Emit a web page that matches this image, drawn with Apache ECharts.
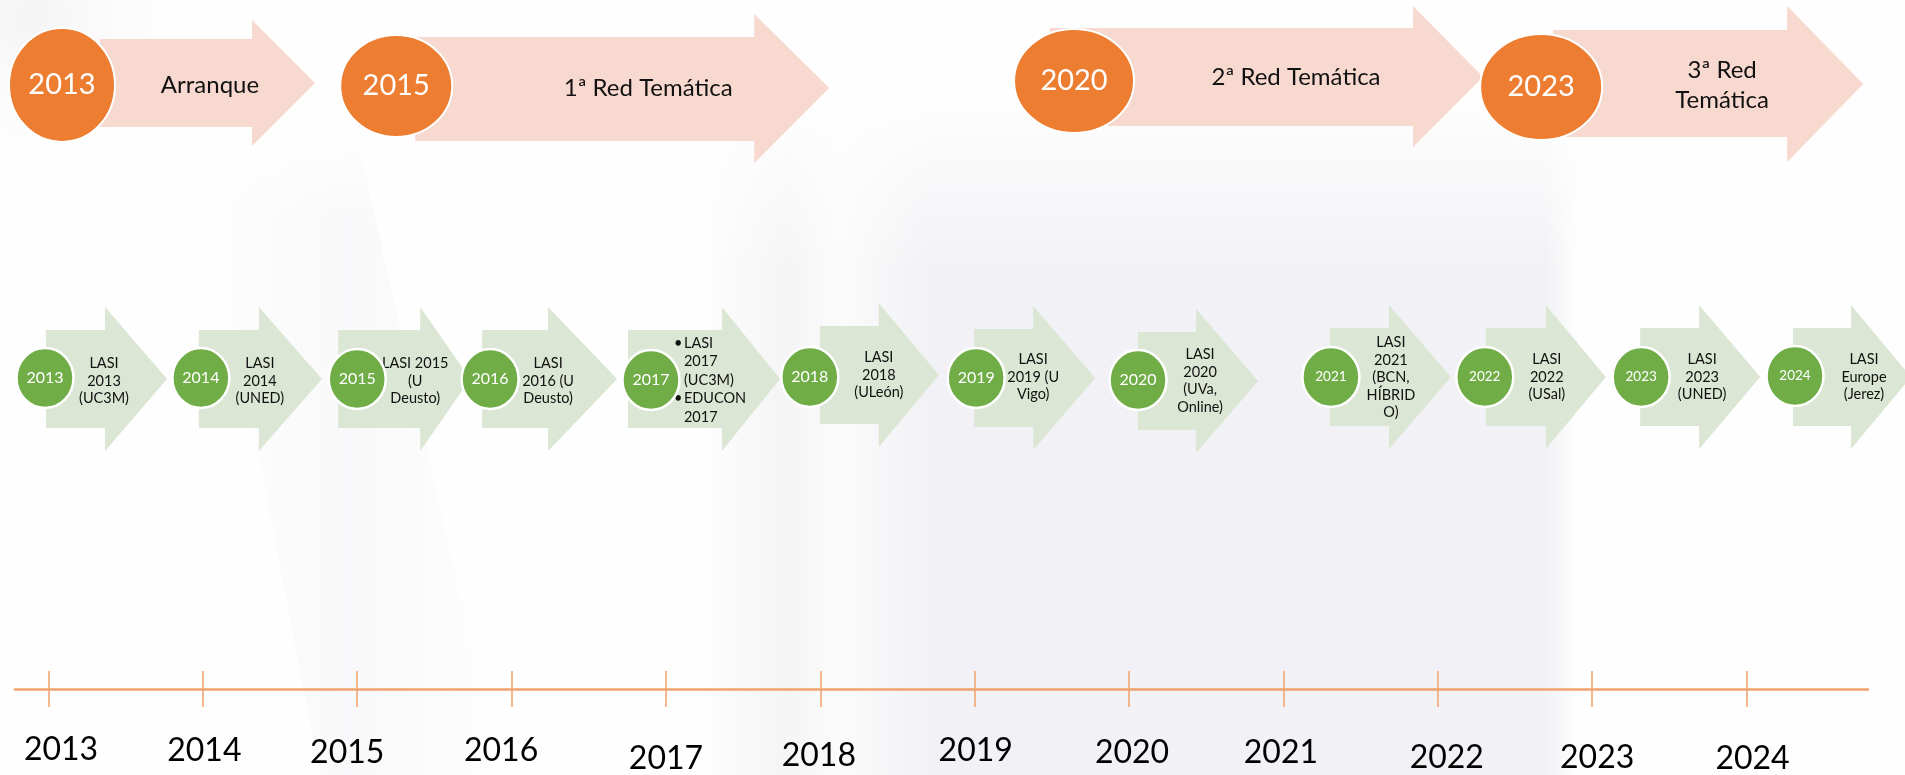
<!DOCTYPE html>
<html>
<head>
<meta charset="utf-8">
<script src="https://cdn.jsdelivr.net/npm/echarts@6/dist/echarts.min.js"></script>
<style>
  html, body { margin: 0; padding: 0; background: #fff; }
  #main { width: 1905px; height: 775px; }
</style>
</head>
<body>
<div id="main"></div>
<script>
// ---- data ----
const years = [2013, 2014, 2015, 2016, 2017, 2018, 2019, 2020, 2021, 2022, 2023, 2024]
const tickLabels = years.map(String)

const phaseYears = [2013, 2015, 2020, 2023]
const phaseNames = ['Arranque', '1ª Red Temática', '2ª Red Temática', '3ª Red\nTemática']

const eventYears = [2013, 2014, 2015, 2016, 2017, 2018, 2019, 2020, 2021, 2022, 2023, 2024]
const eventLabels = [
  'LASI\n2013\n(UC3M)',
  'LASI\n2014\n(UNED)',
  'LASI 2015\n(U\nDeusto)',
  'LASI\n2016 (U\nDeusto)',
  '• LASI\n2017\n(UC3M)\n• EDUCON\n2017',
  'LASI\n2018\n(ULeón)',
  'LASI\n2019 (U\nVigo)',
  'LASI\n2020\n(UVa,\nOnline)',
  'LASI\n2021\n(BCN,\nHÍBRID\nO)',
  'LASI\n2022\n(USal)',
  'LASI\n2023\n(UNED)',
  'LASI\nEurope\n(Jerez)'
]

// ---- layout (pixel offsets from each year's position on the axis) ----
const FONT = 'Lato, "Open Sans", sans-serif'
const ORANGE = '#ED7D31'
const PEACH = '#F8D9CF'
const GREEN = '#70AD47'
const SAGE = '#DBE6D4'
const AXIS_ORANGE = '#F2A36D'

// circle nudge, cy, rx, ry, body start/top/bottom, head base/top/bottom, tip x/y, text dx/y
const phaseLayout = [
  { nudge: 13.5, cy: 85, rx: 53, ry: 57, bs: 38, bt: 39, bb: 127, hb: 190, ht: 20, hbot: 146, tip: 253, tipY: 83, tdx: 148, ty: 85 },
  { nudge: 39, cy: 86, rx: 56, ry: 51, bs: 19, bt: 37, bb: 141, hb: 358, ht: 14, hbot: 163, tip: 433, tipY: 88, tdx: 252, ty: 88 },
  { nudge: -55, cy: 81, rx: 60, ry: 52, bs: -24, bt: 28, bb: 126, hb: 339, ht: 6, hbot: 147, tip: 409, tipY: 77, tdx: 222, ty: 77 },
  { nudge: -51, cy: 87, rx: 61, ry: 53, bs: 12, bt: 30, bb: 137, hb: 246, ht: 6, hbot: 162, tip: 322, tipY: 84, tdx: 181, ty: 85 }
]

const eventLayout = [
  { nudge: -3.5, cy: 378, ay: 379, s: 1, hb: 60, tip: 122, tdx: 59, ty: 381, fs: 16 },
  { nudge: -2, cy: 378, ay: 379, s: -2, hb: 58, tip: 121, tdx: 59, ty: 381, fs: 16 },
  { nudge: 0, cy: 379, ay: 379, s: -19, hb: 63, tip: 113, tdx: 58, ty: 381, fs: 16 },
  { nudge: -21.5, cy: 379, ay: 379, s: -8, hb: 58, tip: 127, tdx: 58, ty: 381, fs: 16 },
  { nudge: -15, cy: 380, ay: 379, s: -23, hb: 71, tip: 129, tdx: 33, ty: 380, fs: 16 },
  { nudge: -10.5, cy: 377, ay: 375, s: 10, hb: 69, tip: 129, tdx: 69, ty: 375, fs: 16 },
  { nudge: 1.5, cy: 378, ay: 378, s: -2, hb: 57, tip: 119, tdx: 57, ty: 377, fs: 16 },
  { nudge: 9, cy: 380, ay: 381, s: 0, hb: 58, tip: 120, tdx: 62, ty: 381, fs: 16 },
  { nudge: 47.5, cy: 377, ay: 377, s: -1, hb: 58, tip: 120, tdx: 60, ty: 377.5, fs: 13.5 },
  { nudge: 47, cy: 377, ay: 377, s: 1, hb: 61, tip: 121, tdx: 62, ty: 377, fs: 13.5 },
  { nudge: 49, cy: 377, ay: 377, s: -1, hb: 58, tip: 119, tdx: 61, ty: 377, fs: 13.5 },
  { nudge: 48.5, cy: 376, ay: 377, s: -2, hb: 56, tip: 116, tdx: 69, ty: 377, fs: 13.5 }
]

const labelNudge = [12.5, 1.5, -10, -10.5, 0, -1.5, 1, 3, -2.5, 9, 5, 6]
const labelY = [749.5, 750.5, 752.5, 751, 759, 756, 751, 753, 753, 758, 758, 759]

const chart = echarts.init(document.getElementById('main'))

function yOf(api, v) {
  return api.coord([api.value(0), v])[1]
}

function renderPhase(params, api) {
  const i = params.dataIndex
  const L = phaseLayout[i]
  const cx = api.coord([api.value(0), L.cy])[0] + L.nudge
  const Y = v => yOf(api, v)
  return {
    type: 'group',
    children: [
      {
        type: 'polygon',
        shape: {
          points: [
            [cx + L.bs, Y(L.bt)], [cx + L.hb, Y(L.bt)], [cx + L.hb, Y(L.ht)],
            [cx + L.tip, Y(L.tipY)],
            [cx + L.hb, Y(L.hbot)], [cx + L.hb, Y(L.bb)], [cx + L.bs, Y(L.bb)]
          ]
        },
        style: { fill: PEACH }
      },
      {
        type: 'text',
        style: {
          x: cx + L.tdx, y: Y(L.ty), text: phaseNames[i],
          fill: '#111', fontSize: 24, fontFamily: FONT, lineHeight: 30,
          align: 'center', verticalAlign: 'middle'
        }
      },
      {
        type: 'ellipse',
        shape: { cx: cx, cy: Y(L.cy), rx: L.rx, ry: L.ry },
        style: { fill: ORANGE, stroke: '#fff', lineWidth: 2 }
      },
      {
        type: 'text',
        style: {
          x: cx, y: Y(L.cy), text: String(phaseYears[i]),
          fill: '#fff', fontSize: 29, fontFamily: FONT,
          align: 'center', verticalAlign: 'middle'
        }
      }
    ]
  }
}

function renderEvent(params, api) {
  const i = params.dataIndex
  const L = eventLayout[i]
  const cx = api.coord([api.value(0), L.cy])[0] + L.nudge
  const Y = v => yOf(api, v)
  const BODY = 49, HEAD = 72
  const children = [
    {
      type: 'polygon',
      shape: {
        points: [
          [cx + L.s, Y(L.ay - BODY)], [cx + L.hb, Y(L.ay - BODY)], [cx + L.hb, Y(L.ay - HEAD)],
          [cx + L.tip, Y(L.ay)],
          [cx + L.hb, Y(L.ay + HEAD)], [cx + L.hb, Y(L.ay + BODY)], [cx + L.s, Y(L.ay + BODY)]
        ]
      },
      style: { fill: SAGE }
    }
  ]
  const label = eventLabels[i]
  if (label.indexOf('•') >= 0) {
    const lines = label.split('\n')
    const bullets = lines.map(l => (l.indexOf('•') === 0 ? '•' : ' ')).join('\n')
    const body = lines.map(l => l.replace('• ', '')).join('\n')
    children.push({
      type: 'text',
      style: {
        x: cx + L.tdx - 10, y: Y(L.ty), text: bullets, fill: '#111',
        fontSize: 14.5, fontFamily: FONT, lineHeight: 18.5, align: 'left', verticalAlign: 'middle'
      }
    })
    children.push({
      type: 'text',
      style: {
        x: cx + L.tdx, y: Y(L.ty), text: body, fill: '#111',
        fontSize: 14.5, fontFamily: FONT, lineHeight: 18.5, align: 'left', verticalAlign: 'middle'
      }
    })
  } else {
    children.push({
      type: 'text',
      style: {
        x: cx + L.tdx, y: Y(L.ty), text: label, fill: '#111',
        fontSize: 14.5, fontFamily: FONT, lineHeight: 17.5, align: 'center', verticalAlign: 'middle'
      }
    })
  }
  children.push({
    type: 'ellipse',
    shape: { cx: cx, cy: Y(L.cy), rx: 28.5, ry: 30 },
    style: { fill: GREEN, stroke: '#fff', lineWidth: 2.5 }
  })
  children.push({
    type: 'text',
    style: {
      x: cx, y: Y(L.cy), text: String(eventYears[i]), fill: '#fff',
      fontSize: L.fs, fontFamily: FONT, align: 'center', verticalAlign: 'middle'
    }
  })
  return { type: 'group', children }
}

function renderYearLabel(params, api) {
  const i = params.dataIndex
  const p = api.coord([api.value(0), labelY[i]])
  return {
    type: 'text',
    style: {
      x: p[0] + labelNudge[i], y: p[1], text: tickLabels[i], fill: '#000',
      fontSize: 32, fontFamily: FONT, align: 'center', verticalAlign: 'middle'
    }
  }
}

const X_MIN = 2012.783
const X_MAX = 2024.787

const tickStyle = { color: AXIS_ORANGE, width: 1.5 }

const option = {
  animation: false,
  backgroundColor: '#fefefe',
  graphic: [
    {
      type: 'rect', z: -10, silent: true,
      shape: { x: 0, y: 0, width: 330, height: 175 },
      style: {
        fill: new echarts.graphic.RadialGradient(0.1, 0.1, 0.9, [
          { offset: 0, color: '#f4f4f4' }, { offset: 1, color: 'rgba(252,252,252,0)' }
        ])
      }
    },
    {
      type: 'polygon', z: -9, silent: true,
      shape: { points: [[200, 150], [360, 150], [500, 775], [320, 775]] },
      style: {
        fill: new echarts.graphic.LinearGradient(0, 0, 1, 0, [
          { offset: 0, color: 'rgba(243,243,247,0)' },
          { offset: 0.5, color: 'rgba(243,243,247,0.5)' },
          { offset: 1, color: 'rgba(243,243,247,0)' }
        ])
      }
    },
    {
      type: 'rect', z: -8, silent: true,
      shape: { x: 180, y: 140, width: 200, height: 80 },
      style: {
        fill: new echarts.graphic.LinearGradient(0, 0, 0, 1, [
          { offset: 0, color: '#fefefe' },
          { offset: 1, color: 'rgba(254,254,254,0)' }
        ])
      }
    },
    {
      type: 'rect', z: -9, silent: true,
      shape: { x: 700, y: 110, width: 880, height: 665 },
      style: {
        fill: new echarts.graphic.LinearGradient(0, 0, 1, 0, [
          { offset: 0, color: 'rgba(243,243,245,0)' },
          { offset: 0.1, color: '#f5f5f6' },
          { offset: 0.16, color: '#fbfbfb' },
          { offset: 0.26, color: '#f2f2f6' },
          { offset: 0.96, color: '#f2f2f6' },
          { offset: 1, color: 'rgba(242,242,246,0)' }
        ])
      }
    },
    {
      type: 'rect', z: -8, silent: true,
      shape: { x: 680, y: 100, width: 920, height: 170 },
      style: {
        fill: new echarts.graphic.LinearGradient(0, 0, 0, 1, [
          { offset: 0, color: '#fefefe' },
          { offset: 1, color: 'rgba(254,254,254,0)' }
        ])
      }
    }
  ],
  grid: { left: 15, right: 37, top: 0, bottom: 86 },
  xAxis: [
    {
      type: 'value', min: X_MIN, max: X_MAX,
      axisLine: { show: true, onZero: false, lineStyle: { color: AXIS_ORANGE, width: 2.5 } },
      axisTick: { show: true, customValues: years, length: 18, lineStyle: tickStyle },
      axisLabel: { show: false },
      splitLine: { show: false }
    },
    {
      type: 'value', min: X_MIN, max: X_MAX, position: 'bottom', offset: 0,
      axisLine: { show: false, onZero: false },
      axisTick: { show: true, inside: true, customValues: years, length: 18, lineStyle: tickStyle },
      axisLabel: { show: false },
      splitLine: { show: false }
    }
  ],
  yAxis: { type: 'value', min: 0, max: 689, inverse: true, show: false },
  series: [
    {
      type: 'custom', name: 'fases', clip: false, silent: true,
      renderItem: renderPhase,
      data: phaseYears.map(y => [y, 0])
    },
    {
      type: 'custom', name: 'eventos', clip: false, silent: true,
      renderItem: renderEvent,
      data: eventYears.map(y => [y, 0])
    },
    {
      type: 'custom', name: 'años', clip: false, silent: true,
      renderItem: renderYearLabel,
      data: years.map(y => [y, 0])
    }
  ]
}

chart.setOption(option)
</script>
</body>
</html>
